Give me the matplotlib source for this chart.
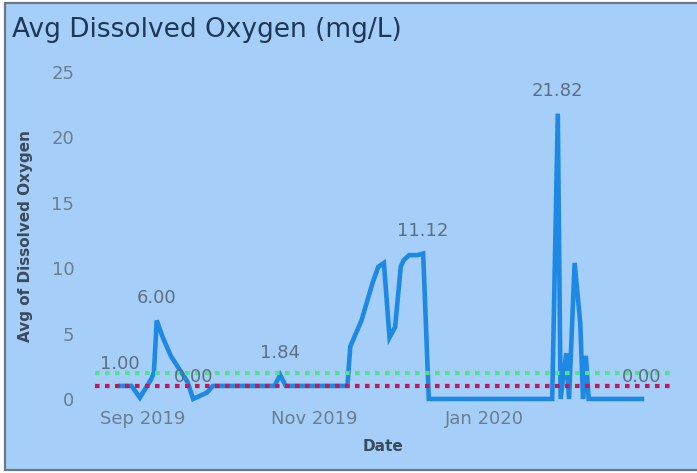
import matplotlib
matplotlib.use("Agg")
import matplotlib.pyplot as plt
import matplotlib.dates as mdates
from matplotlib.patches import Rectangle
import pandas as pd

# ---- data ----
dates = ["2019-08-24", "2019-08-28", "2019-08-31", "2019-09-04", "2019-09-05",
         "2019-09-06", "2019-09-08", "2019-09-11", "2019-09-14", "2019-09-17",
         "2019-09-19", "2019-09-21", "2019-09-24", "2019-09-26", "2019-10-18",
         "2019-10-20", "2019-10-22", "2019-11-13", "2019-11-14", "2019-11-18",
         "2019-11-22", "2019-11-24", "2019-11-26", "2019-11-28", "2019-11-30",
         "2019-12-02", "2019-12-03", "2019-12-05", "2019-12-08", "2019-12-10",
         "2019-12-12", "2020-01-25", "2020-01-27", "2020-01-28", "2020-01-30",
         "2020-01-31", "2020-02-02", "2020-02-04", "2020-02-05", "2020-02-06",
         "2020-02-07", "2020-02-26"]
oxygen = [1.0, 1.0, 0.1, 1.5, 2.0,
          6.0, 4.8, 3.3, 2.3, 1.3,
          0.0, 0.2, 0.5, 1.0, 1.0,
          1.84, 1.0, 1.0, 4.0, 6.0,
          8.9, 10.1, 10.4, 4.7, 5.5,
          10.1, 10.6, 11.0, 11.0, 11.12,
          0.0, 0.0, 21.82, 0.0, 3.5,
          0.0, 10.4, 5.8, 0.0, 3.3,
          0.0, 0.0]
label_dates = ["2019-08-24", "2019-09-06", "2019-09-19", "2019-10-20",
               "2019-12-10", "2020-01-27", "2020-02-26"]
label_values = [1.00, 6.00, 0.00, 1.84, 11.12, 21.82, 0.00]
green_ref = 2.0
red_ref = 1.0
y_ticks = [0, 5, 10, 15, 20, 25]
x_tick_dates = ["2019-09-01", "2019-11-01", "2020-01-01"]
x_tick_labels = ["Sep 2019", "Nov 2019", "Jan 2020"]

# ---- styling ----
W, H = 697, 473
bg = "#a5cff9"
fig = plt.figure(figsize=(W / 100, H / 100), dpi=100)
fig.patch.set_facecolor("white")
fig.patches.append(Rectangle((5 / W, 3 / H), 1.0, (470 - 3) / H,
                             transform=fig.transFigure, facecolor=bg,
                             edgecolor="#6d7784", linewidth=1.6, zorder=-10))

ax = fig.add_axes([95 / W, (H - 405.5) / H, 575 / W, 340 / H])
ax.set_facecolor("none")

x = pd.to_datetime(dates)
ax.plot(x, oxygen, color="#1e88e5", linewidth=3.3, solid_joinstyle="miter", zorder=2)
ax.axhline(green_ref, color="#4fe38b", linewidth=3.0, linestyle=(0, (1.1, 1.3)), zorder=3)
ax.axhline(red_ref, color="#c2185b", linewidth=3.0, linestyle=(0, (1.1, 1.3)), zorder=3)

lab_color = "#5d6f82"
for d, v in zip(pd.to_datetime(label_dates), label_values):
    ax.annotate(f"{v:.2f}", (d, v), xytext=(0, 16), textcoords="offset points",
                ha="center", va="center", fontsize=13, color=lab_color, zorder=4)

ax.set_xlim(pd.Timestamp("2019-08-15"), pd.Timestamp("2020-03-07"))
ax.set_ylim(-0.5, 25.5)
ax.set_yticks(y_ticks)
ax.set_xticks(pd.to_datetime(x_tick_dates))
ax.set_xticklabels(x_tick_labels)
ax.tick_params(axis="both", length=0, labelsize=13, labelcolor="#6b7d90")
ax.tick_params(axis="y", pad=15)
ax.tick_params(axis="x", pad=3)
for s in ax.spines.values():
    s.set_visible(False)

ax.set_ylabel("Avg of Dissolved Oxygen", fontsize=11, fontweight="bold",
              color="#3b4a5c", labelpad=13)
ax.set_xlabel("Date", fontsize=11, fontweight="bold", color="#3b4a5c", labelpad=8)

fig.text(12 / W, 1 - 30 / H, "Avg Dissolved Oxygen (mg/L)", fontsize=19,
         color="#1f3756", ha="left", va="center")

fig.savefig("out.png", dpi=100, facecolor=fig.get_facecolor())
